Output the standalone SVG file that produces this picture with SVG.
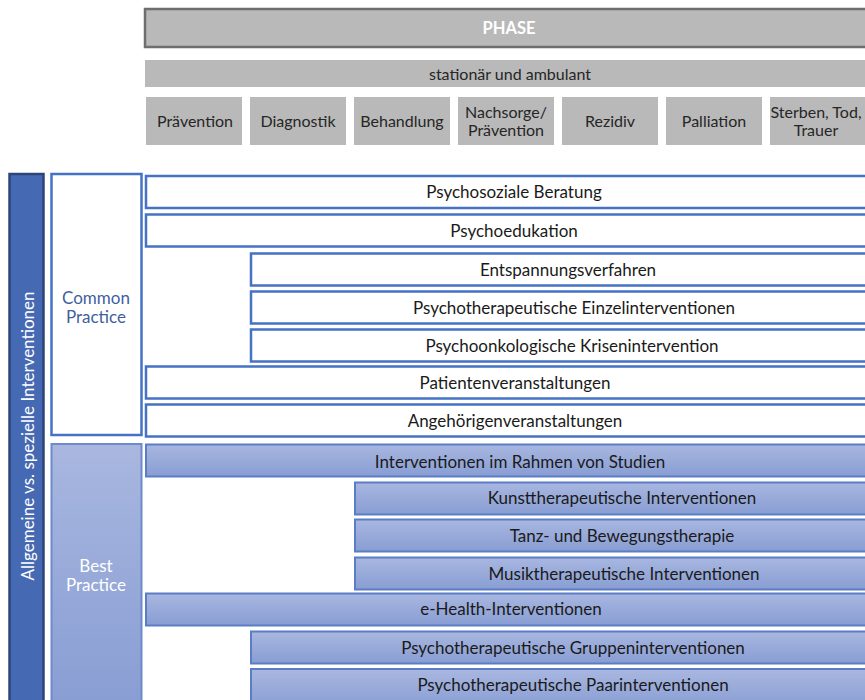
<svg xmlns="http://www.w3.org/2000/svg" width="865" height="700" viewBox="0 0 865 700">
<defs>
<linearGradient id="bp" x1="0" y1="0" x2="0" y2="1">
<stop offset="0" stop-color="#a9b7e0"/>
<stop offset="1" stop-color="#889dd3"/>
</linearGradient>
<style>
text{font-family:Lato,"Open Sans","Liberation Sans",sans-serif;text-anchor:middle;dominant-baseline:central}
.ph{fill:#b9b9b9}
.pht{font-size:16px;fill:#262626}
.cp{fill:#fff;stroke:#4472c4;stroke-width:2.5}
.bpr{fill:url(#bp);stroke:#5b7dc6;stroke-width:2}
.rt{font-size:17px;fill:#1a1a1a}
.sd{font-size:17px}
</style>
</defs>
<g id="phase">
<rect x="145" y="9" width="740" height="38" fill="#b9b9b9" stroke="#6e6e6e" stroke-width="2.5"/>
<text x="509" y="28" style="font-size:16.5px;font-weight:bold;fill:#fff">PHASE</text>
</g>
<g id="setting">
<rect class="ph" x="145" y="60" width="740" height="27"/>
<text class="pht" x="510" y="73.5">stationär und ambulant</text>
</g>
<g id="phases">
<rect class="ph" x="146" y="97" width="96" height="48"/><text class="pht" x="195" y="120">Prävention</text>
<rect class="ph" x="250" y="97" width="96" height="48"/><text class="pht" x="298" y="120">Diagnostik</text>
<rect class="ph" x="354" y="97" width="96" height="48"/><text class="pht" x="402" y="120">Behandlung</text>
<rect class="ph" x="458" y="97" width="96" height="48"/><text class="pht" x="506" y="111">Nachsorge/</text><text class="pht" x="506" y="129">Prävention</text>
<rect class="ph" x="562" y="97" width="96" height="48"/><text class="pht" x="610" y="120">Rezidiv</text>
<rect class="ph" x="666" y="97" width="96" height="48"/><text class="pht" x="714" y="120">Palliation</text>
<rect class="ph" x="770" y="97" width="96" height="48"/><text class="pht" x="816" y="111">Sterben, Tod,</text><text class="pht" x="816" y="129">Trauer</text>
</g>
<g id="axis">
<rect x="9.5" y="174" width="34" height="530" fill="#4569b2" stroke="#2c4679" stroke-width="2.5"/>
<text class="sd" transform="translate(27 436) rotate(-90)" fill="#fff">Allgemeine vs. spezielle Interventionen</text>
</g>
<g id="common-practice">
<rect x="51.5" y="174" width="90" height="261" fill="#fff" stroke="#4472c4" stroke-width="2.5"/>
<text class="sd" x="96" y="297" fill="#3f5f9e">Common</text>
<text class="sd" x="96" y="316" fill="#3f5f9e">Practice</text>
</g>
<g id="best-practice">
<rect x="51.5" y="444" width="90" height="262" fill="url(#bp)" stroke="#6d8bcb" stroke-width="2"/>
<text class="sd" x="96" y="565" fill="#fff">Best</text>
<text class="sd" x="96" y="584" fill="#fff">Practice</text>
</g>
<g id="c1"><rect class="cp" x="146" y="176" width="740" height="32"/><text class="rt" x="514" y="191">Psychosoziale Beratung</text></g>
<g id="c2"><rect class="cp" x="146" y="214.5" width="740" height="32"/><text class="rt" x="514" y="230">Psychoedukation</text></g>
<g id="c3"><rect class="cp" x="251" y="253.5" width="640" height="32"/><text class="rt" x="568" y="269">Entspannungsverfahren</text></g>
<g id="c4"><rect class="cp" x="251" y="291.5" width="640" height="32"/><text class="rt" x="574" y="307">Psychotherapeutische Einzelinterventionen</text></g>
<g id="c5"><rect class="cp" x="251" y="329.5" width="640" height="32"/><text class="rt" x="572" y="345">Psychoonkologische Krisenintervention</text></g>
<g id="c6"><rect class="cp" x="146" y="366.5" width="740" height="32"/><text class="rt" x="515" y="382">Patientenveranstaltungen</text></g>
<g id="c7"><rect class="cp" x="146" y="404.5" width="740" height="32"/><text class="rt" x="515" y="420">Angehörigenveranstaltungen</text></g>
<g id="b1"><rect class="bpr" x="146" y="444.5" width="740" height="32"/><text class="rt" x="520" y="461">Interventionen im Rahmen von Studien</text></g>
<g id="b2"><rect class="bpr" x="355" y="482.5" width="540" height="32"/><text class="rt" x="622" y="497">Kunsttherapeutische Interventionen</text></g>
<g id="b3"><rect class="bpr" x="355" y="519.5" width="540" height="32"/><text class="rt" x="622" y="535">Tanz- und Bewegungstherapie</text></g>
<g id="b4"><rect class="bpr" x="355" y="557.5" width="540" height="32"/><text class="rt" x="624" y="573">Musiktherapeutische Interventionen</text></g>
<g id="b5"><rect class="bpr" x="146" y="593.5" width="740" height="32"/><text class="rt" x="511" y="608">e-Health-Interventionen</text></g>
<g id="b6"><rect class="bpr" x="251" y="631.5" width="640" height="32"/><text class="rt" x="573" y="647">Psychotherapeutische Gruppeninterventionen</text></g>
<g id="b7"><rect class="bpr" x="251" y="669" width="640" height="40"/><text class="rt" x="573" y="684">Psychotherapeutische Paarinterventionen</text></g>
<g id="connectors"/>
</svg>
